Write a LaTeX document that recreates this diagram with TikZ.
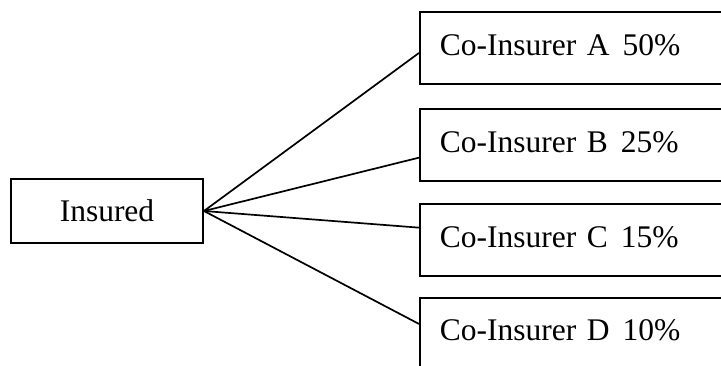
\documentclass[tikz,border=0pt]{standalone}
\usepackage{fontspec}
\setmainfont{Liberation Serif}
\begin{document}
\begin{tikzpicture}[x=1pt,y=1pt,
  box/.style={draw,line width=1.9pt,rectangle,inner sep=0pt},
  ibox/.style={box,anchor=north west,minimum width=330pt,minimum height=72pt,text width=300pt,align=left,inner xsep=20pt},
  link/.style={line width=1.7pt}]
\useasboundingbox (0,0) rectangle (721,365);
\clip (0,0) rectangle (721,365);
\fontsize{31.5}{36}\selectfont
\node[box,minimum width=192pt,minimum height=64pt] (ins) at (107,154) {Insured};
\node[ibox] (A) at (419,354) {\noindent\raisebox{5pt}{Co-Insurer A\hspace{13pt}50\%}};
\node[ibox] (B) at (419,257) {\noindent\raisebox{6pt}{Co-Insurer B\hspace{13pt}25\%}};
\node[ibox] (C) at (419,162) {\noindent\raisebox{6pt}{Co-Insurer C\hspace{13pt}15\%}};
\node[ibox] (D) at (419,68) {\noindent\raisebox{7pt}{Co-Insurer D\hspace{13pt}10\%}};
\draw[link] (ins.east) -- ([yshift=-5pt]A.west);
\draw[link] (ins.east) -- ([yshift=-12.7pt]B.west);
\draw[link] (ins.east) -- ([yshift=12.3pt]C.west);
\draw[link] (ins.east) -- ([yshift=10pt]D.west);
\end{tikzpicture}
\end{document}
